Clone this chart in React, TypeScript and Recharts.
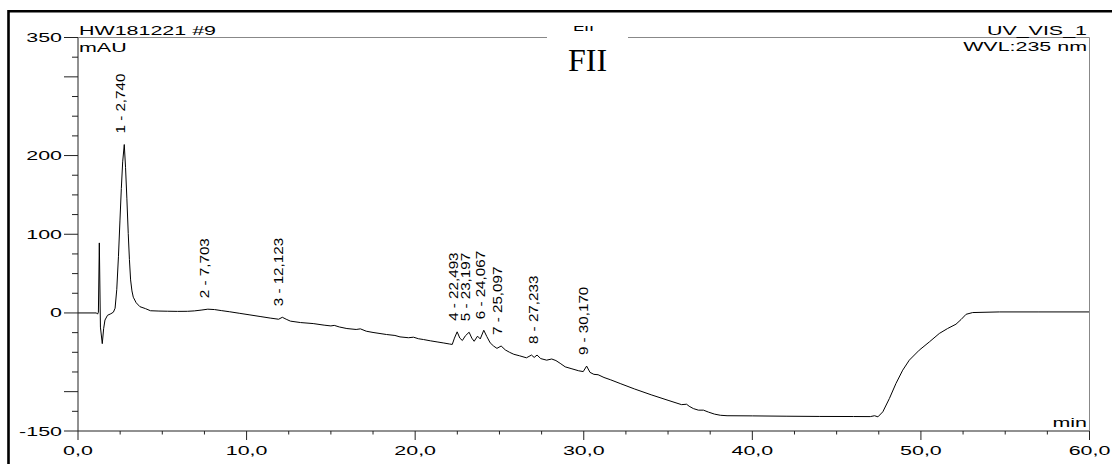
import { LineChart, Line, XAxis, YAxis } from "recharts";

// retention time (min) and signal (mAU)
const times = [
  0, 1.1, 1.16, 1.21, 1.265, 1.33, 1.44, 1.52, 1.6, 1.75, 1.95, 2.1, 2.2, 2.3,
  2.4, 2.49, 2.57, 2.65, 2.745, 2.82, 2.9, 2.98, 3.05, 3.12, 3.2, 3.28, 3.45,
  3.67, 4.0, 4.3, 4.8, 5.3, 5.9, 6.5, 6.9, 7.3, 7.7, 8.1, 8.5, 9.0, 9.6, 10.2,
  10.8, 11.4, 11.9, 12.12, 12.35, 12.6, 13.2, 13.95, 14.6, 15.0, 15.2, 15.5,
  15.95, 16.5, 16.75, 17.1, 17.5, 18.3, 18.8, 19.1, 19.6, 19.9, 20.2, 20.5,
  20.9, 21.3, 21.7, 22.05, 22.2, 22.33, 22.49, 22.65, 22.8, 22.98, 23.2, 23.36,
  23.5, 23.7, 23.86, 24.07, 24.25, 24.45, 24.65, 24.85, 25.1, 25.35, 25.6,
  25.85, 26.2, 26.6, 26.9, 27.06, 27.23, 27.45, 27.8, 28.1, 28.35, 28.6, 28.9,
  29.3, 29.7, 29.97, 30.17, 30.37, 30.6, 30.85, 31.2, 31.6, 32.2, 33.0, 34.0,
  35.0, 35.8, 36.1, 36.25, 36.5, 36.8, 37.1, 37.4, 37.75, 38.1, 38.5, 40.0,
  42.0, 44.0, 46.0, 47.0, 47.25, 47.45, 47.74, 48.13, 48.52, 48.92, 49.31,
  49.9, 50.5, 51.09, 51.58, 52.08, 52.38, 52.68, 53.07, 54.65, 57.0, 60.0,
];
const signal = [
  0, 0, -1.5, 1, 89, -18, -39, -20, -9, -3, -1, 1, 6, 30, 72, 118, 158, 192,
  214, 185, 145, 101, 68, 42, 28, 20, 13, 8, 5.5, 2.8, 2.4, 2.2, 2.0, 2.1, 2.6,
  3.6, 4.8, 4.3, 3.0, 1.5, -0.5, -2.5, -4.5, -6.5, -8, -5.5, -8, -10.4, -12.2,
  -13.5, -15.5, -16.5, -15.8, -17.8, -19.8, -21, -20.2, -23.2, -24.8, -27.4,
  -28.6, -30.4, -31.5, -30.8, -32.8, -33.8, -35.4, -36.8, -38.2, -39.5, -40,
  -32, -24, -32, -35, -29, -24.5, -32, -36, -29.5, -33, -22, -30, -38, -42, -45,
  -42, -47, -50, -52.5, -54.5, -57, -53.5, -56.5, -53.5, -58, -60, -58.5,
  -60.5, -64, -68.5, -71, -73.5, -74.5, -67.5, -75.5, -78, -78.5, -82, -85,
  -90, -96.5, -104, -111, -116.5, -116, -118.5, -121.5, -123.5, -123.5, -126,
  -128.5, -130, -130.6, -130.8, -131.2, -131.5, -131.6, -131.7, -130.6, -132,
  -125.6, -108.7, -89.6, -72.7, -60, -47.3, -36.8, -26.1, -19.8, -14.3, -8.4,
  -1.7, 0.5, 1.3, 1.3, 1.3,
];

// integrated peaks
const peakNumbers = [1, 2, 3, 4, 5, 6, 7, 8, 9];
const peakTimes = [2.74, 7.703, 12.123, 22.493, 23.197, 24.067, 25.097, 27.233, 30.17];
const peakHeights = [214, 4.8, -5.5, -24, -24.5, -22, -42, -53.5, -67.5];

const xTicks = [
  0, 2.5, 5, 7.5, 10, 12.5, 15, 17.5, 20, 22.5, 25, 27.5, 30, 32.5, 35, 37.5,
  40, 42.5, 45, 47.5, 50, 52.5, 55, 57.5, 60,
];
const yTicks = [
  -150, -125, -100, -75, -50, -25, 0, 25, 50, 75, 100, 125, 150, 175, 200, 225,
  250, 275, 300, 325, 350,
];
const yLabels = [350, 200, 100, 0, -150];
const yLongTicks = [350, 300, 200, 100, 0, -100, -150];

const trace = times.map((t, i) => ({ t, mAU: signal[i] }));
const peaks = peakTimes.map((t, i) => ({ t, h: peakHeights[i], n: peakNumbers[i] }));

const FONT = '"Liberation Sans", Arial, sans-serif';
const STRETCH = 1.65;
const AXIS = "#222";

const comma = (v: number, d: number) => v.toFixed(d).replace(".", ",");

function WideText({ x, y, anchor = "start", children }: any) {
  return (
    <text
      transform={`translate(${x},${y}) scale(${STRETCH},1)`}
      textAnchor={anchor}
      fontFamily={FONT}
      fontSize={13}
      fill="#000"
    >
      {children}
    </text>
  );
}

const YTick = (props: any) => {
  const { x, y, payload } = props;
  const v = payload.value;
  const long = yLongTicks.includes(v);
  return (
    <g>
      <line x1={x - (long ? 14 : 6)} x2={x} y1={y} y2={y} stroke={AXIS} />
      {yLabels.includes(v) && (
        <WideText x={x - 16} y={y + 4.5} anchor="end">
          {v}
        </WideText>
      )}
    </g>
  );
};

const XTick = (props: any) => {
  const { x, y, payload } = props;
  const v = payload.value;
  const major = v % 10 === 0;
  return (
    <g>
      <line x1={x} x2={x} y1={y} y2={y + (major ? 9 : 3.5)} stroke={AXIS} />
      {major && (
        <WideText x={x} y={y + 24} anchor="middle">
          {comma(v, 1)}
        </WideText>
      )}
    </g>
  );
};

const PeakLabel = (props: any) => {
  const { cx, cy, payload, index } = props;
  if (cx == null || cy == null) return <g key={index} />;
  return (
    <text
      key={index}
      transform={`translate(${cx + 1},${cy - 11}) rotate(-90) scale(1.17,1)`}
      fontFamily={FONT}
      fontSize={13}
      fill="#000"
    >
      {`${payload.n} - ${comma(payload.t, 3)}`}
    </text>
  );
};

export default function App() {
  return (
    <div style={{ position: "absolute", left: 0, top: 0, width: 1112, height: 464, background: "#fff" }}>
      <LineChart
        width={1112}
        height={464}
        data={trace}
        margin={{ top: 37.5, right: 22.5, bottom: 3, left: 18 }}
      >
        <XAxis
          type="number"
          dataKey="t"
          domain={[0, 60]}
          ticks={xTicks}
          interval={0}
          height={30}
          tickSize={0}
          tickMargin={0}
          tickLine={false}
          axisLine={{ stroke: AXIS }}
          tick={<XTick />}
        />
        <YAxis
          type="number"
          domain={[-150, 350]}
          ticks={yTicks}
          interval={0}
          width={60}
          tickSize={0}
          tickMargin={0}
          tickLine={false}
          axisLine={{ stroke: AXIS }}
          tick={<YTick />}
        />
        <Line
          type="linear"
          dataKey="mAU"
          stroke="#000"
          strokeWidth={1}
          dot={false}
          isAnimationActive={false}
        />
        <Line
          data={peaks}
          type="linear"
          dataKey="h"
          stroke="none"
          dot={(p: any) => <PeakLabel key={p.index} {...p} />}
          activeDot={false}
          isAnimationActive={false}
        />
      </LineChart>
      <svg
        width={1112}
        height={464}
        style={{ position: "absolute", left: 0, top: 0, pointerEvents: "none" }}
      >
        <path d="M8.5 464 V11.2 H1112" fill="none" stroke="#000" strokeWidth={2.6} />
        <line x1={78} x2={1089.5} y1={37.5} y2={37.5} stroke="#888" />
        <line x1={1089.5} x2={1089.5} y1={37.5} y2={431} stroke="#888" />
        <text x={0} y={0} transform={`translate(583.5,34.5) scale(1.4,1)`} textAnchor="middle" fontFamily={FONT} fontSize={13}>
          FII
        </text>
        <rect x={547} y={31} width={81} height={10} fill="#fff" />
        <text x={587.5} y={71} textAnchor="middle" fontFamily='"Liberation Serif", "Times New Roman", serif' fontSize={32} fill="#000">
          FII
        </text>
        <WideText x={79} y={35}>HW181221 #9</WideText>
        <WideText x={79} y={51.5}>mAU</WideText>
        <WideText x={1087} y={35} anchor="end">UV_VIS_1</WideText>
        <WideText x={1087} y={50.5} anchor="end">WVL:235 nm</WideText>
        <WideText x={1087} y={426.5} anchor="end">min</WideText>
      </svg>
    </div>
  );
}
